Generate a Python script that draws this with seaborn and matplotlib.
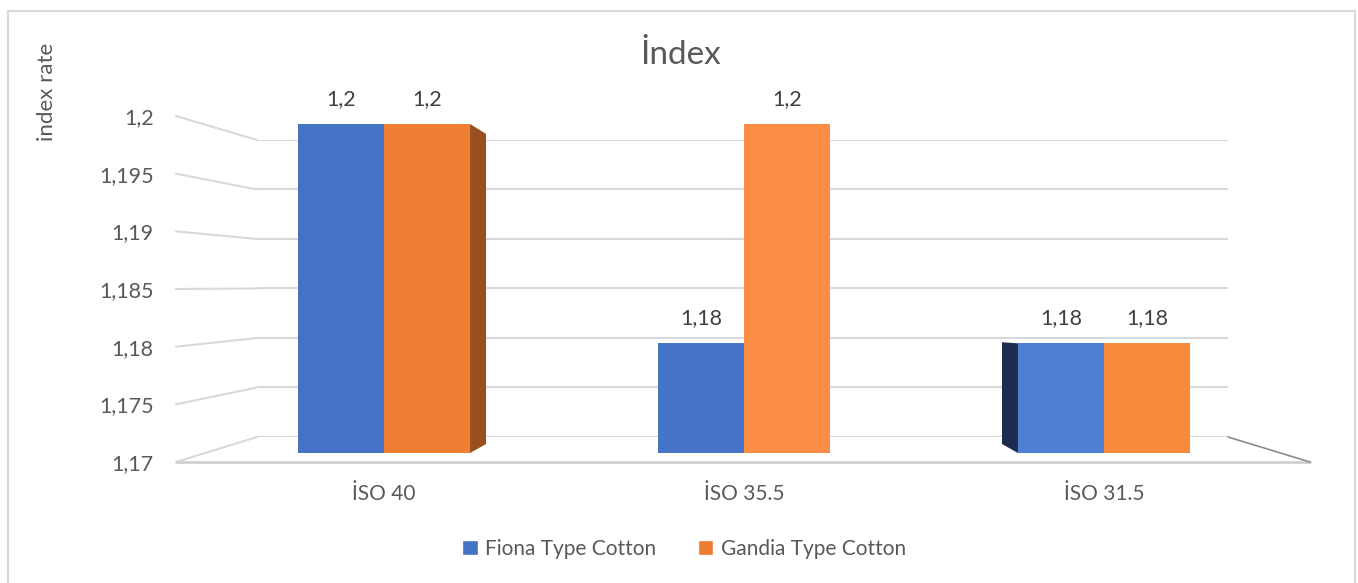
import matplotlib
matplotlib.use("Agg")
import matplotlib.pyplot as plt
import pandas as pd
import seaborn as sns
from matplotlib.lines import Line2D
from matplotlib.patches import Rectangle, Polygon, Patch

# ---- data ----
categories = ["İSO 40", "İSO 35.5", "İSO 31.5"]
series_names = ["Fiona Type Cotton", "Gandia Type Cotton"]
fiona = [1.20, 1.18, 1.18]
gandia = [1.20, 1.20, 1.18]
y_ticks = [1.17, 1.175, 1.18, 1.185, 1.19, 1.195, 1.2]
y_min, y_max = 1.17, 1.2

# ---- style ----
sns.set_theme(style="white")
plt.rcParams["font.family"] = ["Lato", "DejaVu Sans"]
TEXT = "#595959"
LABEL = "#404040"
GRID = "#D9D9D9"
BLUE = "#4472C4"
ORANGE = "#ED7D31"
blue_shades = ["#4472C4", "#4674C8", "#4F7FD3"]
orange_shades = ["#EE7F33", "#FB8E44", "#F98B3D"]

W, H = 1358, 583
fig = plt.figure(figsize=(W / 100, H / 100), dpi=100)
fig.patch.set_facecolor("white")


def box(x0, y0, x1, y1):
    """Pixel box (origin top-left) -> figure-fraction axes rect."""
    return [x0 / W, 1 - y1 / H, (x1 - x0) / W, (y1 - y0) / H]


def comma(v):
    return f"{v:g}".replace(".", ",")


to_fig = fig.transFigure.inverted()


def fig_line(p0, p1, **kw):
    a, b = to_fig.transform([p0, p1])
    fig.add_artist(Line2D([a[0], b[0]], [a[1], b[1]],
                          transform=fig.transFigure, **kw))


# back wall with its gridlines
wall = fig.add_axes(box(257, 140, 1228, 437))
wall.set_xlim(0, 1)
wall.set_ylim(y_min, y_max)
for v in y_ticks:
    wall.axhline(v, color=GRID, lw=1.5, zorder=0)
wall.axis("off")

# side wall carrying the value scale
side = fig.add_axes(box(176, 116, 177, 462))
side.set_xlim(0, 1)
side.set_ylim(y_min, y_max)
side.set_yticks(y_ticks)
side.set_yticklabels([comma(v) for v in y_ticks])
side.set_xticks([])
side.tick_params(axis="y", length=0, pad=16, labelsize=15.5, labelcolor=TEXT)
for s in side.spines.values():
    s.set_visible(False)
side.patch.set_alpha(0)

# perspective lines joining the side scale to the back wall
for v in y_ticks:
    p0 = side.transData.transform((0, v))
    p1 = wall.transData.transform((0, v))
    fig_line(p0, p1, color=GRID, lw=1.5, zorder=0)

# bars
ax = fig.add_axes(box(176, 124, 1310, 453))
df = pd.DataFrame({
    "category": categories * 2,
    "value": fiona + gandia,
    "series": [n for n in series_names for _ in categories],
})
sns.barplot(data=df, x="category", y="value", hue="series",
            palette=[BLUE, ORANGE], width=0.478, saturation=1,
            legend=False, ax=ax, zorder=3)
ax.set_xlim((176 - 384) / 360, (1310 - 384) / 360)
ax.set_ylim(y_min, y_max)
ax.patch.set_alpha(0)
for s in ax.spines.values():
    s.set_visible(False)
ax.set_yticks([])
ax.set_xlabel("")
ax.set_ylabel("")
ax.tick_params(axis="x", length=0, pad=22, labelsize=15, labelcolor=TEXT)

fiona_bars, gandia_bars = ax.containers[0], ax.containers[1]
for patch, c in zip(fiona_bars, blue_shades):
    patch.set_facecolor(c)
    patch.set_edgecolor("none")
for patch, c in zip(gandia_bars, orange_shades):
    patch.set_facecolor(c)
    patch.set_edgecolor("none")

# shaded side faces of the outer groups
dx = 16 / 360
rise_top, rise_bot = 0.0009, 0.00082
p = gandia_bars[0]
x1, top = p.get_x() + p.get_width(), p.get_y() + p.get_height()
ax.add_patch(Polygon([(x1, top), (x1 + dx, top - rise_top),
                      (x1 + dx, y_min + rise_bot), (x1, y_min)],
                     closed=True, fc="#9A4F1E", ec="none", zorder=2))
p = fiona_bars[2]
x0, top = p.get_x(), p.get_y() + p.get_height()
ax.add_patch(Polygon([(x0, top), (x0 - dx, top + 0.0001),
                      (x0 - dx, y_min + rise_bot), (x0, y_min)],
                     closed=True, fc="#1C2C4E", ec="none", zorder=2))

# value labels
for cont in ax.containers:
    ax.bar_label(cont, fmt=comma, padding=11, fontsize=15.5, color=LABEL)

# floor outline
front_left = side.transData.transform((0, y_min))
front_right = (ax.transAxes.transform((1, 0))[0], front_left[1])
back_right = wall.transData.transform((1, y_min))
fig_line(front_left, front_right, color="#D0D0D0", lw=2, zorder=1)
fig_line(back_right, front_right, color="#8C8C8C", lw=1.2, zorder=1)

# titles
fig.text(681 / W, 1 - 55 / H, "İndex", ha="center", va="center",
         fontsize=24, color=TEXT)
fig.text(47 / W, 1 - 92 / H, "index rate", rotation=90, ha="center",
         va="center", fontsize=16, color=TEXT)

# legend
handles = [Patch(facecolor=BLUE), Patch(facecolor=ORANGE)]
fig.legend(handles, series_names, loc="center",
           bbox_to_anchor=(684 / W, 1 - 549 / H), ncol=2, frameon=False,
           fontsize=15, handlelength=0.75, handleheight=0.75,
           handletextpad=0.35, columnspacing=2.0, labelcolor=TEXT)

# chart frame
fig.add_artist(Rectangle((8 / W, -0.02), (1355 - 8) / W, 1.02 - 11 / H,
                         transform=fig.transFigure, fill=False,
                         ec=GRID, lw=1.5))

fig.savefig("out.png", dpi=100)
